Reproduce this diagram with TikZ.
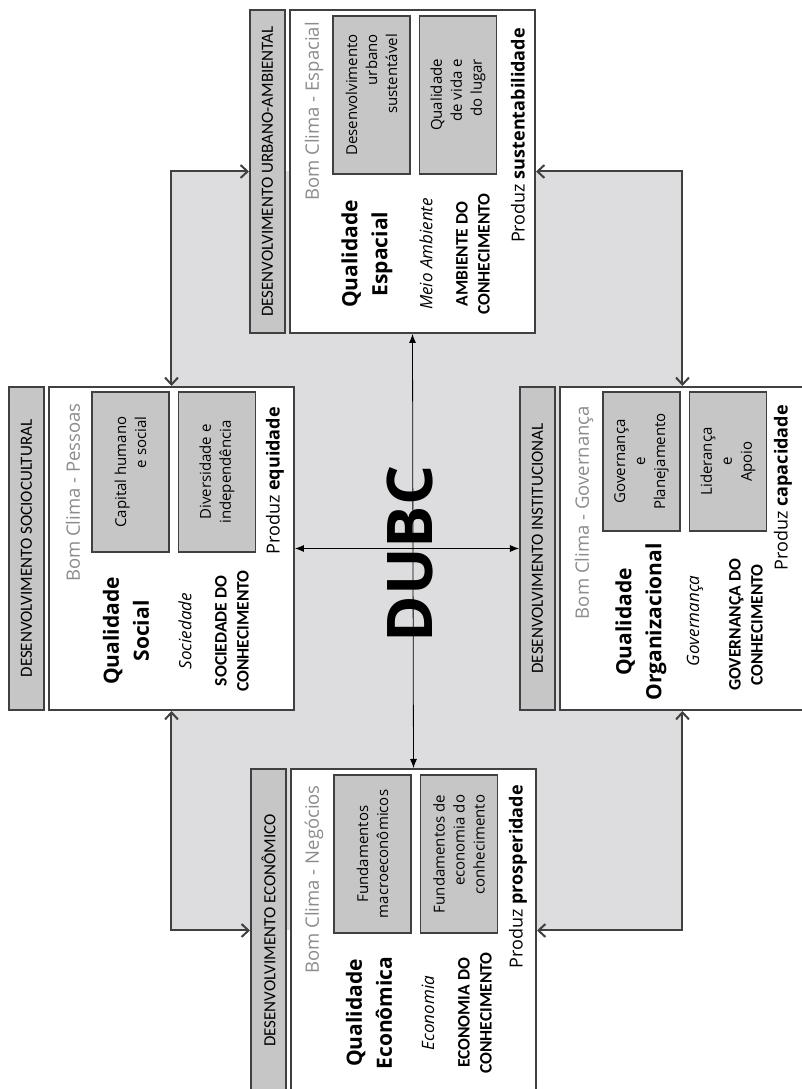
\documentclass[tikz,border=0pt]{standalone}
\usepackage{fontspec}
\setmainfont{Open Sans}
\newfontfamily\barfont{Carlito}
\usetikzlibrary{arrows.meta, backgrounds}
\definecolor{linegray}{RGB}{64,64,64}
\definecolor{boxgray}{RGB}{198,198,198}
\definecolor{fieldgray}{RGB}{221,221,223}
\definecolor{textgray}{RGB}{140,140,140}
\tikzset
    { bar/.style =
        { draw=linegray, line width=2pt, fill=boxgray, inner sep=0pt
        , minimum width=323pt, minimum height=35pt
        , font=\barfont\fontsize{17}{20}\selectfont
        }
    , block/.style =
        { draw=linegray, line width=2pt, fill=white
        , minimum width=323pt, minimum height=245pt
        }
    , subbox/.style =
        { draw=linegray, line width=1.5pt, fill=boxgray, inner sep=2pt
        , minimum width=158pt, minimum height=77pt
        , font=\fontsize{15}{20}\selectfont
        }
    , climate/.style = {anchor=east, inner sep=0pt, text=textgray, font=\fontsize{18.5}{22}\selectfont}
    , quality/.style = {align=center, font=\bfseries\fontsize{21}{30}\selectfont}
    , sphere/.style = {font=\itshape\fontsize{17}{20}\selectfont}
    , knowledge/.style = {align=center, font=\barfont\bfseries\fontsize{17.5}{22}\selectfont}
    , produces/.style = {anchor=east, inner sep=0pt, font=\fontsize{18}{20}\selectfont}
    , link/.style =
        { draw=linegray, line width=2pt
        , >={Straight Barb[length=7pt,width=13pt]}, <->
        }
    , cross/.style =
        { draw=black, line width=0.8pt
        , >={Latex[length=9pt,width=7pt]}, <->
        }
    }

\begin{document}
\begin{tikzpicture}[x=1pt, y=1pt, rotate=90, transform shape]

    \useasboundingbox (0,0) rectangle (1089,801);

    % economico
    \begin{scope}[shift={(-4,264)}]
        \node[block, anchor=south west] (ebox) at (0,0) {};
        \node[bar, anchor=south west] (ebar) at (0,250) {DESENVOLVIMENTO ECONÔMICO};
        \node[subbox, align=center] (emacro) at (239,164.5) {Fundamentos\\macroeconômicos};
        \node[subbox, align=right] (eknow) at (239,78) {Fundamentos de\\economia do\\conhecimento};
        \node[climate] (eclimate) at (308,223) {Bom Clima - Negócios};
        \node[quality] (equality) at (80,168) {Qualidade\\Econômica};
        \node[sphere] (esphere) at (80,109) {Economia};
        \node[knowledge] (ecap) at (80,62) {ECONOMIA DO\\CONHECIMENTO};
        \node[produces] (eprod) at (308,19) {Produz \textbf{prosperidade}};
    \end{scope}

    % sociocultural
    \begin{scope}[shift={(378,506)}]
        \node[block, anchor=south west] (sbox) at (0,0) {};
        \node[bar, anchor=south west] (sbar) at (0,250) {DESENVOLVIMENTO SOCIOCULTURAL};
        \node[subbox, minimum width=160pt, align=right] (scapital) at (239,164.5) {Capital humano\\e social};
        \node[subbox, minimum width=160pt, align=center] (sdiverse) at (239,78) {Diversidade e\\independência};
        \node[climate] (sclimate) at (308,222) {Bom Clima - Pessoas};
        \node[quality] (squality) at (80,169) {Qualidade\\Social};
        \node[sphere] (ssphere) at (80,110) {Sociedade};
        \node[knowledge] (scap) at (80,63) {SOCIEDADE DO\\CONHECIMENTO};
        \node[produces] (sprod) at (304,20) {Produz \textbf{equidade}};
    \end{scope}

    % institucional
    \begin{scope}[shift={(378,-5)}]
        \node[block, anchor=south west] (ibox) at (0,0) {};
        \node[bar, anchor=south west] (ibar) at (0,250) {DESENVOLVIMENTO INSTITUCIONAL};
        \node[subbox, minimum width=139pt, align=center] (iplan) at (249.5,164.5) {Governança\\e\\Planejamento};
        \node[subbox, minimum width=139pt, align=center] (ilead) at (249.5,78) {Liderança\\e\\Apoio};
        \node[climate] (iclimate) at (305,222) {Bom Clima - Governança};
        \node[quality] (iquality) at (89,165) {Qualidade\\Organizacional};
        \node[sphere] (isphere) at (90,111) {Governança};
        \node[knowledge] (icap) at (86,60) {GOVERNANÇA DO\\CONHECIMENTO};
        \node[produces] (iprod) at (306,23) {Produz \textbf{capacidade}};
    \end{scope}

    % urbano-ambiental
    \begin{scope}[shift={(755,265)}]
        \node[block, anchor=south west] (ubox) at (0,0) {};
        \node[bar, anchor=south west] (ubar) at (0,250) {DESENVOLVIMENTO URBANO-AMBIENTAL};
        \node[subbox, align=right] (usust) at (239,164.5) {Desenvolvimento\\urbano\\sustentável};
        \node[subbox, align=right] (uplace) at (239,78) {Qualidade\\de vida e\\do lugar};
        \node[climate] (uclimate) at (312,222) {Bom Clima - Espacial};
        \node[quality] (uquality) at (80,169) {Qualidade\\Espacial};
        \node[sphere] (usphere) at (80,110) {Meio Ambiente};
        \node[knowledge] (ucap) at (80,63) {AMBIENTE DO\\CONHECIMENTO};
        \node[produces] (uprod) at (306,18) {Produz \textbf{sustentabilidade}};
    \end{scope}

    \node[font=\bfseries\fontsize{63}{70}\selectfont] (dubc) at (535,391) {DUBC};

    \draw[cross] (ebox.east) -- (ubox.west);
    \draw[cross] (ibar.north) -- (sbox.south);

    \draw[link] (ubar.north) |- (sbox.east);
    \draw[link] (sbox.west) -| (ebar.north);
    \draw[link] (ubox.south) |- (ibox.east);
    \draw[link] (ibox.west) -| (ebox.south);

    \begin{scope}[on background layer]
        \fill[fieldgray] (ebar.north |- ibox.east) rectangle (ubar.north |- sbox.east);
    \end{scope}

\end{tikzpicture}
\end{document}
